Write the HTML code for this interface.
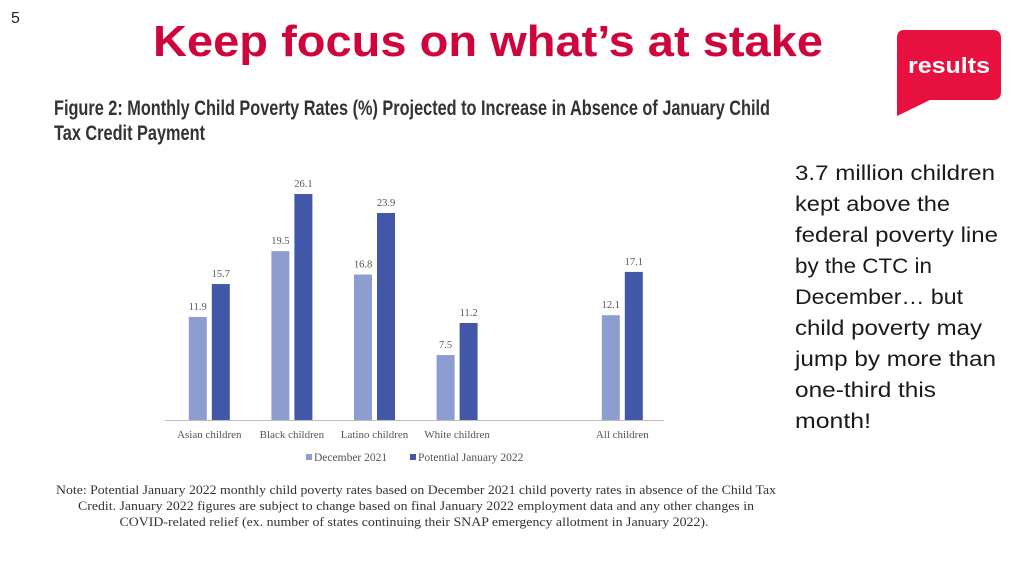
<!DOCTYPE html>
<html><head><meta charset="utf-8"><style>
html,body{margin:0;padding:0;background:#fff;width:1024px;height:576px;overflow:hidden}
svg{display:block}
</style></head><body>
<svg width="1024" height="576" viewBox="0 0 1024 576">
<text x="11" y="23" font-family="Liberation Sans, sans-serif" font-size="16" fill="#222">5</text>
<text x="153" y="56" font-family="Liberation Sans, sans-serif" font-weight="bold" font-size="44" fill="#d0043c" textLength="670" lengthAdjust="spacingAndGlyphs">Keep focus on what’s at stake</text>
<g>
<path d="M904 30 H993 Q1001 30 1001 38 V92 Q1001 100 993 100 H930 L897 116 V38 Q897 30 904 30 Z" fill="#e8103f"/>
<text x="949" y="73" text-anchor="middle" font-family="Liberation Sans, sans-serif" font-weight="bold" font-size="22" fill="#fff" textLength="82" lengthAdjust="spacingAndGlyphs">results</text>
</g>
<g font-family="Liberation Sans Narrow, Liberation Sans, sans-serif" font-weight="bold" font-size="21" fill="#333">
<text x="54" y="115" textLength="716" lengthAdjust="spacingAndGlyphs">Figure 2: Monthly Child Poverty Rates (%) Projected to Increase in Absence of January Child</text>
<text x="54" y="140" textLength="151" lengthAdjust="spacingAndGlyphs">Tax Credit Payment</text>
</g>
<g id="chart"></g>
<g font-family="Liberation Serif, serif" font-size="13" fill="#333" text-anchor="middle">
<text x="416" y="494" textLength="720" lengthAdjust="spacingAndGlyphs">Note: Potential January 2022 monthly child poverty rates based on December 2021 child poverty rates in absence of the Child Tax</text>
<text x="416" y="510" textLength="676" lengthAdjust="spacingAndGlyphs">Credit. January 2022 figures are subject to change based on final January 2022 employment data and any other changes in</text>
<text x="414" y="526" textLength="589" lengthAdjust="spacingAndGlyphs">COVID-related relief (ex. number of states continuing their SNAP emergency allotment in January 2022).</text>
</g>
<g font-family="Liberation Sans, sans-serif" font-size="21" fill="#1a1a1a">
<text x="795" y="180" textLength="200" lengthAdjust="spacingAndGlyphs">3.7 million children</text>
<text x="795" y="211" textLength="155" lengthAdjust="spacingAndGlyphs">kept above the</text>
<text x="795" y="242" textLength="203" lengthAdjust="spacingAndGlyphs">federal poverty line</text>
<text x="795" y="273" textLength="137" lengthAdjust="spacingAndGlyphs">by the CTC in</text>
<text x="795" y="304" textLength="168" lengthAdjust="spacingAndGlyphs">December… but</text>
<text x="795" y="335" textLength="187" lengthAdjust="spacingAndGlyphs">child poverty may</text>
<text x="795" y="366" textLength="201" lengthAdjust="spacingAndGlyphs">jump by more than</text>
<text x="795" y="397" textLength="141" lengthAdjust="spacingAndGlyphs">one-third this</text>
<text x="795" y="428" textLength="76" lengthAdjust="spacingAndGlyphs">month!</text>
</g>
</svg>
<script>
const categories = ["Asian children","Black children","Latino children","White children","","All children"];
const dec2021 = [11.9, 19.5, 16.8, 7.5, null, 12.1];
const jan2022 = [15.7, 26.1, 23.9, 11.2, null, 17.1];
const seriesNames = ["December 2021","Potential January 2022"];

const NS = "http://www.w3.org/2000/svg";
const g = document.getElementById("chart");
const baseY = 420, pxPerUnit = 8.66, x0 = 168, slotW = 82.6, barW = 18, gap = 5;
function yScale(v){ return baseY - v * pxPerUnit; }
function xCenter(i){ return x0 + slotW * (i + 0.5); }
function mk(tag, attrs){ const e = document.createElementNS(NS, tag); for (const k in attrs) e.setAttribute(k, attrs[k]); g.appendChild(e); return e; }

const axis = mk("line", {x1:165, x2:664, y1:baseY+0.5, y2:baseY+0.5, stroke:"#bbb", "stroke-width":1});



const colors = ["#8e9dd0", "#4257a8"];
const series = [dec2021, jan2022];
categories.forEach((c, i) => {
  const cx = xCenter(i);
  series.forEach((s, si) => {
    const v = s[i];
    if (v == null) return;
    const x = si === 0 ? cx - gap/2 - barW : cx + gap/2;
    const r = mk("rect", {x:x, y:yScale(v), width:barW, height:baseY - yScale(v), fill:colors[si]});
    
    
    const t = mk("text", {x:x + barW/2, y:yScale(v) - 7, "text-anchor":"middle", "font-family":"Liberation Serif, serif", "font-size":"10.5", fill:"#555"});
    t.textContent = v.toFixed(1);
    
    
  });
  if (c) {
    const l = mk("text", {x:cx, y:438, "text-anchor":"middle", "font-family":"Liberation Serif, serif", "font-size":"11", fill:"#555"});
    l.textContent = c;
    
    
  }
});

const legendX = [306, 410];
seriesNames.forEach((n, si) => {
  const sq = mk("rect", {x:legendX[si], y:454, width:6, height:6, fill:colors[si]});
  
  
  const t = mk("text", {x:legendX[si] + 8, y:461, "font-family":"Liberation Serif, serif", "font-size":"11.5", fill:"#555"});
  t.textContent = n;
  
  
});
</script>
</body></html>
